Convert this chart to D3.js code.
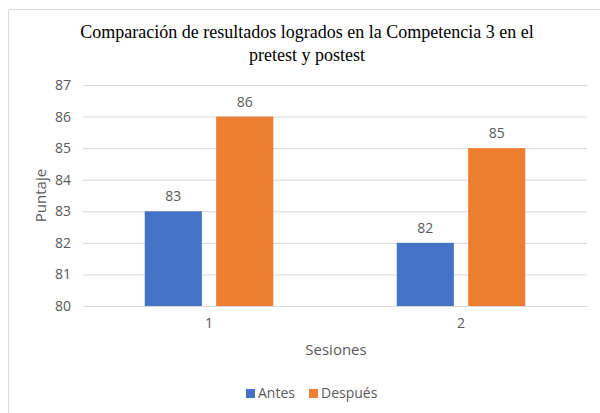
<!DOCTYPE html>
<html>
<head>
<meta charset="utf-8">
<script src="https://cdn.jsdelivr.net/npm/d3@7"></script>
<style>
  body { margin: 0; background: #fff; overflow: hidden; }
  svg { display: block; }
  text { font-family: "Open Sans", "Noto Sans", sans-serif; fill: #595959; }
  .title { font-family: "Liberation Serif", "Times New Roman", serif; fill: #000; font-size: 18px; }
</style>
</head>
<body>
<div id="chart"></div>
<script>
const sesiones = ['1', '2'];
const series = ['Antes', 'Después'];
const antes = [83, 82];
const despues = [86, 85];
const yTicks = [80, 81, 82, 83, 84, 85, 86, 87];
const colors = ['#4472C4', '#ED7D31'];

const width = 600, height = 413;
const margin = {top: 85, right: 13, bottom: 107, left: 83};
const innerWidth = width - margin.left - margin.right;
const innerHeight = height - margin.top - margin.bottom;

const svg = d3.select('#chart').append('svg')
    .attr('width', width)
    .attr('height', height);

// chart area border (only top/left are visible in the crop)
svg.append('path')
    .attr('d', `M8.5,${height}V9.5H${width}`)
    .attr('fill', 'none')
    .attr('stroke', '#d9d9d9');

svg.append('text').attr('class', 'title')
    .attr('x', 307).attr('y', 38)
    .attr('text-anchor', 'middle')
    .text('Comparación de resultados logrados en la Competencia 3 en el');
svg.append('text').attr('class', 'title')
    .attr('x', 307).attr('y', 61)
    .attr('text-anchor', 'middle')
    .text('pretest y postest');

const g = svg.append('g')
    .attr('transform', `translate(${margin.left},${margin.top})`);

const yScale = d3.scaleLinear()
    .domain([80, 87])
    .range([innerHeight, 0]);

const x0 = d3.scaleBand()
    .domain(sesiones)
    .range([0, innerWidth])
    .paddingInner(0.49)
    .paddingOuter(0.245);

const x1 = d3.scaleBand()
    .domain(series)
    .range([0, x0.bandwidth()])
    .paddingInner(0.2);

const yAxis = d3.axisLeft(yScale)
    .tickValues(yTicks)
    .tickFormat(d3.format('d'))
    .tickSize(-innerWidth)
    .tickPadding(12);

const yAxisG = g.append('g').call(yAxis)
    .attr('font-size', 14)
    .attr('font-family', '"Open Sans", sans-serif');
yAxisG.select('.domain').remove();
yAxisG.selectAll('line').attr('stroke', '#d9d9d9');
yAxisG.selectAll('text').attr('fill', '#595959');

const xAxis = d3.axisBottom(x0).tickSize(0).tickPadding(12);
const xAxisG = g.append('g')
    .attr('transform', `translate(0,${innerHeight})`)
    .call(xAxis)
    .attr('font-size', 14)
    .attr('font-family', '"Open Sans", sans-serif');
xAxisG.select('.domain').attr('stroke', '#d9d9d9');
xAxisG.selectAll('text').attr('fill', '#595959');

const rows = sesiones.map((s, i) => ({sesion: s, values: [antes[i], despues[i]]}));

const groups = g.selectAll('.grupo').data(rows)
    .enter().append('g')
    .attr('class', 'grupo')
    .attr('transform', d => `translate(${x0(d.sesion)},0)`);

groups.selectAll('rect')
    .data(d => d.values.map((v, j) => ({serie: series[j], value: v, j})))
    .enter().append('rect')
    .attr('x', d => x1(d.serie))
    .attr('y', d => yScale(d.value))
    .attr('width', x1.bandwidth())
    .attr('height', d => innerHeight - yScale(d.value))
    .attr('fill', d => colors[d.j]);

groups.selectAll('.valor')
    .data(d => d.values.map((v, j) => ({serie: series[j], value: v})))
    .enter().append('text')
    .attr('class', 'valor')
    .attr('x', d => x1(d.serie) + x1.bandwidth() / 2)
    .attr('y', d => yScale(d.value) - 10)
    .attr('text-anchor', 'middle')
    .attr('font-size', 14)
    .text(d => d.value);

g.append('text')
    .attr('transform', `translate(${-37},${innerHeight / 2}) rotate(-90)`)
    .attr('text-anchor', 'middle')
    .attr('font-size', 15)
    .text('Puntaje');

svg.append('text')
    .attr('x', 336).attr('y', 355)
    .attr('text-anchor', 'middle')
    .attr('font-size', 15)
    .text('Sesiones');

// legend
const legendX = [246, 309];
const legend = svg.selectAll('.leyenda').data(series)
    .enter().append('g')
    .attr('class', 'leyenda')
    .attr('transform', (d, i) => `translate(${legendX[i]},389)`);
legend.append('rect')
    .attr('width', 9).attr('height', 9)
    .attr('fill', (d, i) => colors[i]);
legend.append('text')
    .attr('x', 12).attr('y', 9)
    .attr('font-size', 14)
    .text(d => d);
</script>
</body>
</html>
